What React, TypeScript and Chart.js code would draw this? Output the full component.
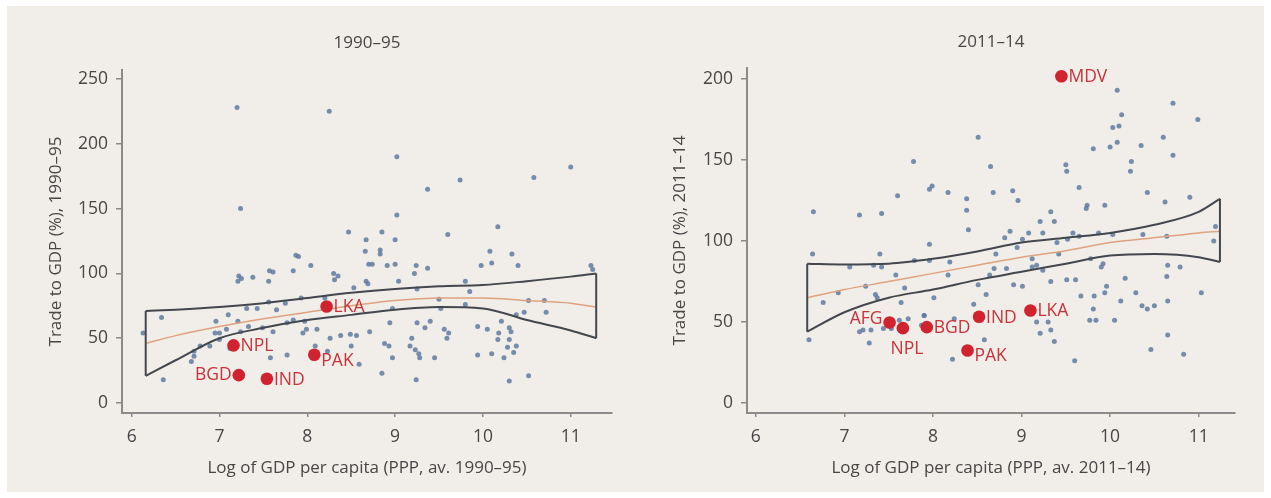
import React, { useEffect, useRef } from "react";
import { Chart, registerables } from "chart.js";

Chart.register(...registerables);

// ---------- data ----------
const X_TICKS = [6, 7, 8, 9, 10, 11];
const Y_TICKS_9095 = [0, 50, 100, 150, 200, 250];
const Y_TICKS_1114 = [0, 50, 100, 150, 200];

// 1990-95 scatter (log GDP pc, trade % GDP)
const sx9095 = [7.2, 8.25, 7.24, 9.02, 9.74, 9.37, 10.58, 11.0, 9.02, 9.6, 10.17, 8.47, 8.85, 8.67, 9.0, 8.66, 8.83, 8.83, 10.08, 10.33, 7.87, 7.57, 7.84, 8.04, 8.3, 8.35, 8.7, 8.74, 8.91, 9.0, 9.24, 9.37, 9.22, 9.98, 10.1, 10.4, 11.23, 11.25, 7.22, 7.25, 7.38, 7.56, 7.21, 8.67, 8.69, 9.04, 9.25, 9.8, 9.85, 8.53, 8.2, 7.93, 7.75, 7.56, 7.43, 7.31, 7.65, 8.97, 8.94, 9.5, 9.52, 9.8, 10.7, 10.52, 10.72, 10.38, 10.47, 7.1, 6.34, 6.96, 7.21, 7.33, 7.49, 7.61, 7.24, 7.08, 6.95, 7.0, 7.0, 7.77, 7.84, 7.97, 7.99, 7.95, 8.11, 8.26, 8.38, 8.49, 8.56, 8.5, 8.71, 9.19, 9.25, 9.34, 9.4, 9.56, 9.59, 9.61, 9.94, 10.05, 10.18, 10.17, 10.21, 10.3, 10.32, 10.3, 8.93, 9.17, 9.23, 9.27, 9.28, 9.45, 8.97, 9.94, 10.1, 10.28, 10.38, 10.35, 10.24, 8.23, 8.09, 7.77, 7.58, 7.12, 6.89, 6.78, 6.71, 6.71, 6.68, 8.59, 8.85, 9.24, 10.3, 10.52, 6.36, 6.13, 8.88, 7.61, 7.9, 8.31];
const sy9095 = [228, 225, 150, 190, 172, 165, 174, 182, 145, 130, 136, 132, 132, 126, 126, 117, 118, 115, 117, 115, 114, 102, 102, 106, 100, 98, 107, 107, 106, 107, 106, 104, 100, 106, 108, 106, 106, 103, 98, 96, 97, 94, 94, 94, 92, 94, 88, 94, 86, 89, 81, 81, 77, 78, 73, 73, 72, 73, 62, 80, 73, 76, 79, 79, 70, 68, 70, 68, 66, 63, 63, 59, 58, 55, 55, 57, 54, 54, 49, 62, 64, 63, 57, 54, 57, 50, 52, 53, 52, 44, 55, 50, 62, 58, 63, 57, 50, 54, 59, 57, 54, 49, 63, 58, 55, 49, 44, 44, 41, 38, 35, 35, 35, 37, 38, 43, 44, 39, 35, 40, 44, 37, 35, 42, 44, 44, 40, 36, 32, 30, 23, 18, 17, 21, 18, 54, 46, 101, 113, 95];

const codes9095 = ["NPL", "BGD", "IND", "PAK", "LKA"];
const hx9095 = [7.16, 7.22, 7.54, 8.08, 8.22];
const hy9095 = [44.5, 21.5, 18.7, 37.2, 74.5];

const fitX9095 = [6.16, 6.5, 7.0, 7.5, 8.0, 8.5, 9.0, 9.5, 10.0, 10.5, 11.0, 11.29];
const fitUp9095 = [71, 72, 74, 77, 81, 85, 88, 90, 91, 94, 97.5, 100];
const fitLo9095 = [21, 33, 50, 58, 64, 68, 72, 74, 73, 64, 56, 50];
const fitMid9095 = [46, 52, 59, 65, 70, 75, 79, 81, 81, 79, 77, 74];

// 2011-14 scatter
const sx1114 = [10.08, 10.13, 10.71, 10.99, 10.03, 10.1, 10.08, 10.0, 10.35, 10.6, 10.71, 9.81, 10.24, 10.23, 9.5, 9.51, 8.51, 7.78, 8.65, 7.17, 7.42, 6.65, 7.6, 7.96, 7.99, 8.17, 8.38, 8.38, 8.4, 8.68, 8.9, 8.96, 9.65, 9.74, 9.73, 9.94, 10.42, 10.62, 10.9, 9.33, 9.37, 9.21, 9.58, 9.52, 9.24, 9.08, 8.87, 8.81, 8.95, 9.01, 7.96, 9.87, 10.03, 10.37, 10.64, 11.17, 11.19, 6.64, 7.4, 9.65, 9.42, 8.71, 9.4, 9.12, 9.17, 9.12, 9.24, 9.33, 9.61, 9.51, 9.78, 9.92, 9.9, 10.65, 10.79, 10.64, 11.03, 10.17, 9.96, 9.94, 9.82, 9.67, 10.29, 10.12, 10.36, 10.42, 10.5, 10.65, 9.81, 9.77, 9.84, 10.05, 10.65, 10.46, 10.83, 9.6, 9.37, 9.33, 9.21, 9.17, 9.3, 9.01, 8.91, 8.6, 8.51, 8.46, 8.58, 8.22, 8.24, 8.64, 8.69, 8.83, 8.19, 8.17, 8.01, 7.9, 7.72, 7.64, 7.68, 7.58, 7.79, 7.96, 7.42, 7.33, 7.37, 7.35, 7.24, 7.06, 6.93, 6.76, 6.6, 7.17, 7.21, 7.3, 7.28, 7.44, 7.53, 7.62, 7.87, 7.9];
const sy1114 = [193, 178, 185, 175, 170, 171, 161, 158, 159, 164, 153, 157, 149, 143, 147, 143, 164, 149, 146, 116, 117, 118, 128, 132, 134, 130, 126, 119, 107, 130, 131, 125, 133, 122, 120, 122, 130, 124, 127, 118, 112, 112, 105, 101, 105, 105, 106, 102, 96, 101, 98, 105, 104, 104, 103, 100, 109, 92, 92, 103, 92, 92, 99, 89, 85, 84, 82, 75, 76, 76, 89, 86, 84, 85, 84, 78, 68, 77, 72, 68, 66, 66, 68, 63, 60, 58, 60, 63, 58, 51, 51, 51, 42, 33, 30, 26, 38, 45, 43, 50, 50, 72, 73, 67, 73, 61, 39, 27, 52, 79, 83, 83, 87, 79, 65, 54, 52, 62, 71, 79, 88, 88, 84, 85, 65, 67, 72, 84, 68, 62, 39, 44, 45, 45, 37, 46, 46, 51, 48, 54];

const codes1114 = ["MDV", "AFG", "NPL", "BGD", "IND", "PAK", "LKA"];
const hx1114 = [9.45, 7.51, 7.66, 7.93, 8.52, 8.39, 9.1];
const hy1114 = [201.7, 49.7, 46.2, 46.8, 53.2, 32.4, 57.1];

const fitX1114 = [6.58, 7.0, 7.5, 8.0, 8.5, 9.0, 9.5, 10.0, 10.5, 11.0, 11.24];
const fitUp1114 = [86, 85.5, 86, 89, 93.5, 99, 102, 105, 110, 118, 126];
const fitLo1114 = [44, 56, 65, 70, 76, 81, 86, 91, 92, 90, 87];
const fitMid1114 = [65, 70, 75, 80, 85, 90, 94, 99, 102, 105, 106];

// ---------- style ----------
const FONT = '"Open Sans", "Liberation Sans", sans-serif';
const TEXT = "#474747";
const AXIS = "#8a8a8a";
const RED = "#d0232f";
const RED_TEXT = "#c7333b";
const BAND = "#43474e";

const LABEL_PLACE_9095: Record<string, string> = { NPL: "right", BGD: "left", IND: "right", PAK: "rightLow", LKA: "right" };
const LABEL_PLACE_1114: Record<string, string> = { MDV: "right", AFG: "leftHigh", NPL: "below", BGD: "right", IND: "right", PAK: "rightLow", LKA: "right" };

const panelTitlePlugin = {
  id: "panelTitle",
  afterDraw(chart: any, _args: any, opts: any) {
    const { ctx, chartArea } = chart;
    ctx.save();
    ctx.font = `17px ${FONT}`;
    ctx.fillStyle = TEXT;
    ctx.textAlign = "center";
    ctx.textBaseline = "middle";
    ctx.fillText(opts.text, (chartArea.left + chartArea.right) / 2, opts.y);
    ctx.restore();
  },
};

const codeLabelPlugin = {
  id: "codeLabels",
  afterDatasetsDraw(chart: any, _args: any, opts: any) {
    const meta = chart.getDatasetMeta(opts.datasetIndex);
    const { ctx } = chart;
    ctx.save();
    ctx.font = `17.5px ${FONT}`;
    ctx.fillStyle = RED_TEXT;
    ctx.textBaseline = "middle";
    meta.data.forEach((el: any, i: number) => {
      const code = opts.codes[i];
      const place = opts.place[code];
      let x = el.x, y = el.y;
      if (place === "right") { ctx.textAlign = "left"; x += 7; y += 1; }
      else if (place === "rightLow") { ctx.textAlign = "left"; x += 7; y += 6; }
      else if (place === "left") { ctx.textAlign = "right"; x -= 7; }
      else if (place === "leftHigh") { ctx.textAlign = "right"; x -= 7; y -= 3; }
      else if (place === "below") { ctx.textAlign = "center"; x += 4; y += 21; }
      ctx.fillText(code, x, y);
    });
    ctx.restore();
  },
};

type Panel = {
  title: string; xTitle: string; yTitle: string; yTicks: number[];
  xMin: number; xMax: number; yMin: number; yMax: number;
  sx: number[]; sy: number[]; codes: string[]; hx: number[]; hy: number[]; place: Record<string, string>;
  fx: number[]; fUp: number[]; fLo: number[]; fMid: number[];
  width: number; yScaleWidth: number; yTitlePad: number; padTop: number; padRight: number; titleY: number;
};

function makeConfig(p: Panel): any {
  const pts = (xs: number[], ys: number[]) => xs.map((x, i) => ({ x, y: ys[i] }));
  const n = p.fx.length - 1;
  const lineDs = (data: any[], color: string, width: number, order: number, mono = true) => ({
    data, showLine: true, pointRadius: 0, borderColor: color, borderWidth: width, fill: false, order,
    cubicInterpolationMode: mono ? "monotone" : "default", tension: 0,
  });
  return {
    type: "scatter",
    data: {
      datasets: [
        { data: pts(p.sx, p.sy), pointRadius: 2.5, pointBackgroundColor: "rgba(96,122,160,0.85)", pointBorderWidth: 0, order: 5 },
        lineDs(pts(p.fx, p.fUp), BAND, 2, 2),
        lineDs(pts(p.fx, p.fLo), BAND, 2, 2),
        lineDs([{ x: p.fx[0], y: p.fUp[0] }, { x: p.fx[0], y: p.fLo[0] }], BAND, 2, 2, false),
        lineDs([{ x: p.fx[n], y: p.fUp[n] }, { x: p.fx[n], y: p.fLo[n] }], BAND, 2, 2, false),
        lineDs(pts(p.fx, p.fMid), "#dfa27f", 1.5, 3),
        { data: pts(p.hx, p.hy), pointRadius: 6.3, pointBackgroundColor: RED, pointBorderWidth: 0, order: 0 },
      ],
    },
    options: {
      responsive: false,
      animation: false,
      events: [],
      layout: { padding: { left: 0, top: p.padTop, right: p.padRight, bottom: 0 } },
      plugins: {
        legend: { display: false },
        tooltip: { enabled: false },
        title: { display: false },
        panelTitle: { text: p.title, y: p.titleY },
        codeLabels: { datasetIndex: 6, codes: p.codes, place: p.place },
      },
      scales: {
        x: {
          type: "linear", min: p.xMin, max: p.xMax,
          afterBuildTicks: (s: any) => { s.ticks = X_TICKS.map((v) => ({ value: v })); },
          afterFit: (s: any) => { s.height = 85; },
          border: { display: true, color: AXIS, width: 2 },
          grid: { display: true, drawOnChartArea: false, drawTicks: true, tickLength: 4, color: AXIS, lineWidth: 1.5 },
          ticks: { color: TEXT, font: { family: FONT, size: 17.5 }, padding: 10, maxRotation: 0, autoSkip: false },
          title: { display: true, text: p.xTitle, color: TEXT, font: { family: FONT, size: 17 }, padding: { top: 0, bottom: 20 } },
        },
        y: {
          type: "linear", min: p.yMin, max: p.yMax,
          afterBuildTicks: (s: any) => { s.ticks = p.yTicks.map((v) => ({ value: v })); },
          afterFit: (s: any) => { s.width = p.yScaleWidth; },
          border: { display: true, color: AXIS, width: 2 },
          grid: { display: true, drawOnChartArea: false, drawTicks: true, tickLength: 6, color: AXIS, lineWidth: 1.5 },
          ticks: { color: TEXT, font: { family: FONT, size: 17.5 }, padding: 8, autoSkip: false },
          title: { display: true, text: p.yTitle, color: TEXT, font: { family: FONT, size: 17 }, padding: { top: p.yTitlePad, bottom: 0 } },
        },
      },
    },
    plugins: [panelTitlePlugin, codeLabelPlugin],
  };
}

const PANEL_9095: Panel = {
  title: "1990–95", xTitle: "Log of GDP per capita (PPP, av. 1990–95)", yTitle: "Trade to GDP (%), 1990–95",
  yTicks: Y_TICKS_9095, xMin: 5.89, xMax: 11.47, yMin: -7.7, yMax: 256.9,
  sx: sx9095, sy: sy9095, codes: codes9095, hx: hx9095, hy: hy9095, place: LABEL_PLACE_9095,
  fx: fitX9095, fUp: fitUp9095, fLo: fitLo9095, fMid: fitMid9095,
  width: 635, yScaleWidth: 122, yTitlePad: 45.8, padTop: 70, padRight: 23, titleY: 43,
};

const PANEL_1114: Panel = {
  title: "2011–14", xTitle: "Log of GDP per capita (PPP, av. 2011–14)", yTitle: "Trade to GDP (%), 2011–14",
  yTicks: Y_TICKS_1114, xMin: 5.9, xMax: 11.41, yMin: -6.2, yMax: 206.8,
  sx: sx1114, sy: sy1114, codes: codes1114, hx: hx1114, hy: hy1114, place: LABEL_PLACE_1114,
  fx: fitX1114, fUp: fitUp1114, fLo: fitLo1114, fMid: fitMid1114,
  width: 636, yScaleWidth: 112, yTitlePad: 34.8, padTop: 68, padRight: 36, titleY: 42,
};

function PanelChart({ panel, left }: { panel: Panel; left: number }) {
  const ref = useRef<HTMLCanvasElement | null>(null);
  useEffect(() => {
    if (!ref.current) return;
    const chart = new Chart(ref.current, makeConfig(panel));
    return () => chart.destroy();
  }, [panel]);
  return (
    <canvas
      ref={ref}
      width={panel.width}
      height={498}
      style={{ position: "absolute", left, top: 0, width: panel.width, height: 498 }}
    />
  );
}

export default function App() {
  return (
    <div style={{ position: "absolute", left: 0, top: 0, width: 1271, height: 498, background: "#ffffff", overflow: "hidden" }}>
      <div style={{ position: "absolute", left: 7, top: 6, width: 1257, height: 486, background: "#f1ede9" }} />
      <PanelChart panel={PANEL_9095} left={0} />
      <PanelChart panel={PANEL_1114} left={635} />
    </div>
  );
}
